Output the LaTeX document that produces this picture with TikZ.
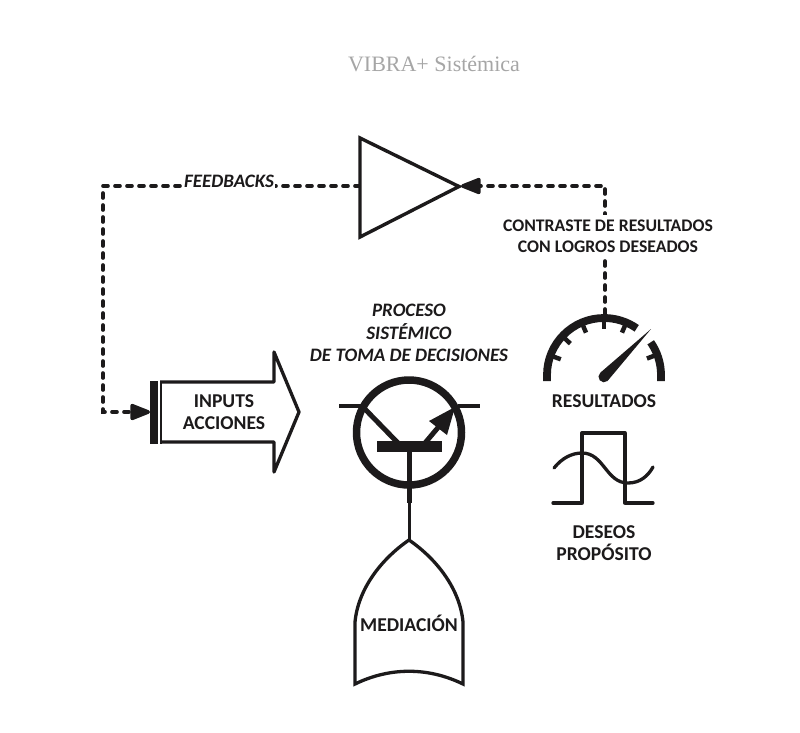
\documentclass[tikz,border=0pt]{standalone}
\usepackage{fontspec}
\setmainfont{Carlito}
\newfontfamily\titlefont{Liberation Serif}
\usetikzlibrary{arrows.meta}
\definecolor{ink}{HTML}{1C1A1B}
\definecolor{titlegray}{HTML}{A6A6A6}
\tikzset{
  lbl/.style={inner sep=0pt,font=\fontsize{19.6}{22}\selectfont\bfseries,text=ink,align=center},
  smalllbl/.style={lbl,font=\fontsize{17.7}{21}\selectfont\bfseries},
  ilbl/.style={lbl,font=\fontsize{19}{22.5}\selectfont\bfseries\itshape},
  symb/.style={draw=ink,line width=3.3pt,line join=miter},
  dashline/.style={draw=ink,line width=3.6pt,line cap=round,dash pattern=on 5pt off 7pt},
  headtip/.style={-{Triangle[length=23pt,width=17pt,round=false,sep=0pt]}},
}
\begin{document}
\begin{tikzpicture}[x=1pt,y=-1pt]
\useasboundingbox[fill=white] (0,0) rectangle (800,732);
% title
\node[inner sep=0pt,font=\titlefont\fontsize{22}{24}\selectfont,text=titlegray] (title) at (434,64) {VIBRA+ Sistémica};
% named points
\coordinate (triL) at (360,186);
\coordinate (triT) at (461,186);
\coordinate (cornerA) at (103,186);
\coordinate (cornerB) at (103,412);
\coordinate (inL) at (150,412);
\coordinate (cornerC) at (605,186);
\coordinate (gaugeTop) at (605,314);
\coordinate (base) at (409,452);
\coordinate (medTop) at (409,541);
% feedback connectors
\draw[dashline,headtip] (triL) -- (cornerA) -- (cornerB) -- (inL);
\draw[dashline,headtip] (gaugeTop) -- (cornerC) -- (triT);
% triangle
\draw[symb,fill=white,line width=3.4pt] (360,138) -- (459,186.5) -- (360,237) -- cycle;
% labels over lines
\node[ilbl,fill=white,inner xsep=1pt,inner ysep=3pt] (fb) at (229,181) {FEEDBACKS};
\node[smalllbl,fill=white,inner ysep=5pt] (contraste) at (608,236.5) {CONTRASTE DE RESULTADOS\\CON LOGROS DESEADOS};
\node[ilbl] (proceso) at (409,333) {PROCESO\\SISTÉMICO\\DE TOMA DE DECISIONES};
% input arrow
\draw[symb,line join=round] (160,382) -- (274,382) -- (274,352) -- (299,412) -- (274,472) -- (274,442) -- (160,442);
\fill[ink] (150,381) rectangle (158,443.5);
\draw[ink,line width=2pt] (161,381) -- (161,443.5);
\node[lbl] (inputs) at (224,412) {INPUTS\\ACCIONES};
% transistor
\draw[ink,line width=7.5pt] (409,432.5) circle[radius=52.5pt];
\draw[ink,line width=4pt] (339,406) -- (362,406);
\draw[ink,line width=4pt] (458,406) -- (480,406);
\draw[ink,line width=5pt] (361,405) -- (398,443);
\draw[ink,line width=5pt] (425,443) -- (441,424);
\fill[ink] (455,407) -- (429,421) -- (447,435) -- cycle;
\fill[ink] (377,441) rectangle (442,452);
\draw[ink,line width=5pt] (409,452) -- (409,503);
\draw[ink,line width=3pt] (base) -- (medTop);
% mediation
\draw[symb,line join=miter,fill=white] (409,540) .. controls (380,560) and (358,590) .. (355,622) -- (355,684) .. controls (390,667) and (428,667) .. (463,684) -- (463,622) .. controls (460,590) and (438,560) .. (409,540) -- cycle;
\node[lbl] (med) at (409,623) {MEDIACIÓN};
% gauge
\begin{scope}[shift={(604,375)},y=1pt]
  \draw[ink,line width=7.8pt] (-57,-6) -- (180:57) arc[start angle=180,end angle=55,radius=57pt];
  \draw[ink,line width=7.8pt] (35:57) arc[start angle=35,end angle=0,radius=57pt] -- (57,-6);
  \foreach \a in {160,137,113,90,67,21}
    \draw[ink,line width=4.5pt] (\a:55) -- (\a:46);
  \fill[ink] (47,46) -- (3.5,-6) arc[start angle=-50,end angle=-230,radius=5.5pt] -- cycle;
\end{scope}
\node[lbl] (res) at (604,401) {RESULTADOS};
% wave
\draw[symb,line cap=round,line join=round] (553,503) -- (582,503) -- (582,433) -- (625,433) -- (625,503) -- (653,503);
\draw[symb,line cap=round] (554,468) .. controls (562,458) and (572,453) .. (582,453) .. controls (604,453) and (606,483) .. (628,483) .. controls (640,483) and (648,476) .. (653,467);
\node[lbl] (deseos) at (604,543) {DESEOS\\PROPÓSITO};
\end{tikzpicture}
\end{document}
